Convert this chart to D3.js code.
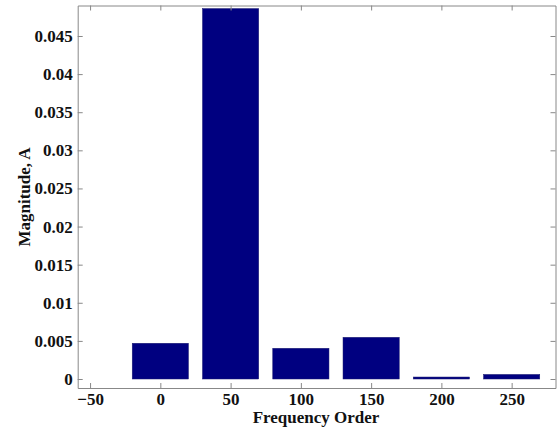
<!DOCTYPE html>
<html>
<head>
<meta charset="utf-8">
<script src="https://cdn.jsdelivr.net/npm/d3@7"></script>
<style>
  body { margin: 0; background: #fff; }
  svg text { font-family: "Liberation Serif", "Times New Roman", serif; font-weight: bold; fill: #111; }
  .axis path, .axis line { stroke: #888; }
</style>
</head>
<body>
<div id="chart"></div>
<script>
// harmonic orders and their magnitudes (A)
var orders = [0, 50, 100, 150, 200, 250]
var magnitude = [0.00469, 0.0486, 0.00403, 0.00547, 0.00026, 0.0006]
var xTicks = [-50, 0, 50, 100, 150, 200, 250]
var yTicks = [0, 0.005, 0.01, 0.015, 0.02, 0.025, 0.03, 0.035, 0.04, 0.045]

var data = orders.map(function(d, i){ return {order: d, mag: magnitude[i]} })

var width = 557, height = 432
var box = {left: 77.7, right: 555.5, top: 5.5, bottom: 388}

var svg = d3.select('#chart').append('svg')
  .attr('width', width).attr('height', height)

var x = d3.scaleLinear().domain([-58.8, 281.2]).range([box.left, box.right])
var y = d3.scaleLinear().domain([-0.00118, 0.049]).range([box.bottom, box.top])

var barW = 40

svg.selectAll('rect.bar').data(data).enter().append('rect')
  .attr('class', 'bar')
  .attr('x', function(d){ return x(d.order - barW / 2) })
  .attr('width', x(barW) - x(0))
  .attr('y', function(d){ return y(d.mag) })
  .attr('height', function(d){ return y(0) - y(d.mag) })
  .attr('fill', '#000080')
  .attr('stroke', '#1a1a6e')
  .attr('stroke-width', 0.5)

// box with inward ticks, matlab style
var tick = 5
svg.append('g').attr('class', 'axis').attr('transform', 'translate(0,' + box.bottom + ')')
  .call(d3.axisBottom(x).tickValues(xTicks).tickSizeInner(-tick).tickSizeOuter(0).tickPadding(5))
svg.append('g').attr('class', 'axis').attr('transform', 'translate(0,' + box.top + ')')
  .call(d3.axisTop(x).tickValues(xTicks).tickSizeInner(-tick).tickSizeOuter(0).tickFormat(''))
svg.append('g').attr('class', 'axis').attr('transform', 'translate(' + box.left + ',0)')
  .call(d3.axisLeft(y).tickValues(yTicks).tickSizeInner(-tick).tickSizeOuter(0).tickPadding(5)
    .tickFormat(function(d){ return d === 0 ? '0' : String(+d.toFixed(3)) }))
svg.append('g').attr('class', 'axis').attr('transform', 'translate(' + box.right + ',0)')
  .call(d3.axisRight(y).tickValues(yTicks).tickSizeInner(-tick).tickSizeOuter(0).tickFormat(''))

svg.selectAll('.axis text').style('font-size', '17px').attr('fill', '#111')

svg.append('text')
  .attr('x', 316).attr('y', 423)
  .attr('text-anchor', 'middle').style('font-size', '17px')
  .text('Frequency Order')

svg.append('text')
  .attr('transform', 'translate(30,197) rotate(-90)')
  .attr('text-anchor', 'middle').style('font-size', '17px')
  .text('Magnitude, A')
</script>
</body>
</html>
